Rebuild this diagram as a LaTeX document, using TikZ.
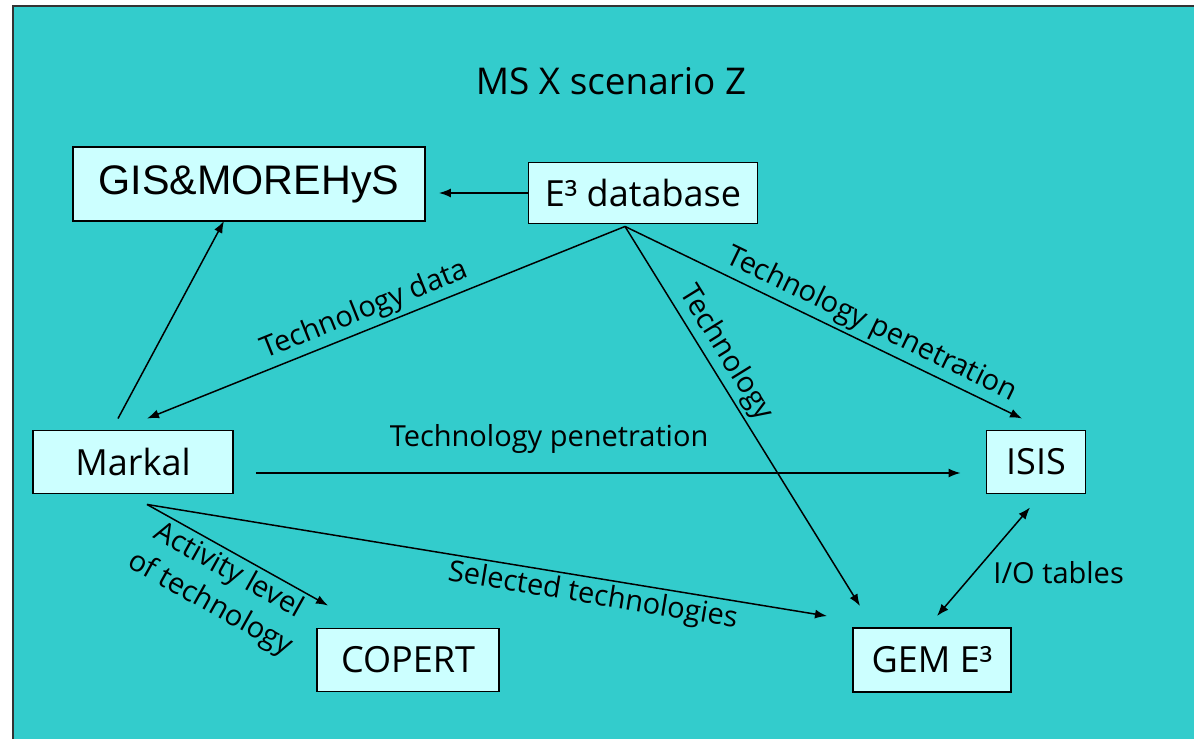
\documentclass[tikz,border=0pt]{standalone}
\usepackage{fontspec}
\setmainfont{Open Sans}
\newfontfamily\arialfont{Liberation Sans}
\usetikzlibrary{calc,arrows.meta}

\definecolor{tealbg}{HTML}{33CCCC}
\definecolor{boxfill}{HTML}{CCFFFF}

\tikzset{
  model/.style={draw=black, fill=boxfill, line width=1.1pt, inner sep=0pt,
    font=\fontsize{20.5}{24}\selectfont},
  link/.style={-{Latex[length=0.24cm,width=0.18cm]}, line width=0.85pt},
  twoway/.style={{Latex[length=0.24cm,width=0.18cm]}-{Latex[length=0.24cm,width=0.18cm]}, line width=0.85pt},
  lbl/.style={font=\fontsize{16.5}{20}\selectfont, inner sep=2pt}
}

\begin{document}
\begin{tikzpicture}[x=0.02cm, y=-0.02cm]
\useasboundingbox (0,0) rectangle (1194,739);

% Background and frame
\fill[white] (0,0) rectangle (1194,739);
\fill[tealbg] (13,6) rectangle (1194,739);
\draw[line width=0.9pt, black!80] (13,739) -- (13,6) -- (1194,6);

% Title
\node[font=\fontsize{21}{25}\selectfont] (title) at (611,81) {MS X scenario Z};

% Models
\node[model, minimum width=7.04cm, minimum height=1.48cm, font=\arialfont\fontsize{23.5}{28}\selectfont] (gis) at (249,184) {GIS\&MOREHyS};
\node[model, minimum width=4.58cm, minimum height=1.22cm] (db) at (643,193) {E³ database};
\node[model, minimum width=4.0cm, minimum height=1.26cm] (markal) at (133,462) {Markal};
\node[model, minimum width=1.98cm, minimum height=1.26cm] (isis) at (1036,462) {ISIS};
\node[model, minimum width=3.64cm, minimum height=1.26cm] (copert) at (408,660) {COPERT};
\node[model, minimum width=3.16cm, minimum height=1.28cm] (gem) at (932,660) {GEM E³};

% Connector ends
\coordinate (dbfoot) at ($(db.south)+(-18,2)$);
\coordinate (mkfoot) at ($(markal.south)+(14,10)$);

% Links
\draw[link, shorten >=0.26cm] (db.west) -- (db.west -| gis.east);
\draw[link] ($(markal.north)+(-15,-11)$) -- ($(gis.south)+(-25,-1)$);
\draw[link] (dbfoot) -- ($(markal.north)+(14,-11)$)
  node[lbl, sloped, above, pos=0.53] {Technology data};
\draw[link] (dbfoot) -- ($(gem.north)+(-72,-21)$)
  node[lbl, sloped, above, pos=0.36] {Technology};
\draw[link] (dbfoot) -- ($(isis.north)+(-14,-11)$)
  node[lbl, sloped, above, pos=0.6] {Technology penetration};
\draw[link] ($(markal.east)+(22,11)$) -- ($(isis.west)+(-25,11)$)
  node[lbl, above=0.3cm, pos=0.416] {Technology penetration};
\draw[twoway] ($(isis.south)+(-6,13)$) -- ($(gem.north)+(5,-11)$)
  node[lbl, anchor=west, pos=0.6, xshift=0.3cm] {I/O tables};
\draw[link] (mkfoot) -- ($(copert.north)+(-80,-22)$)
  node[lbl, sloped, below, pos=0.5, align=center, font=\fontsize{16.5}{21.5}\selectfont] {Activity level\\of technology};
\draw[link] (mkfoot) -- ($(gem.north)+(-105,-11)$)
  node[lbl, sloped, below, pos=0.66] {Selected technologies};
\end{tikzpicture}
\end{document}
